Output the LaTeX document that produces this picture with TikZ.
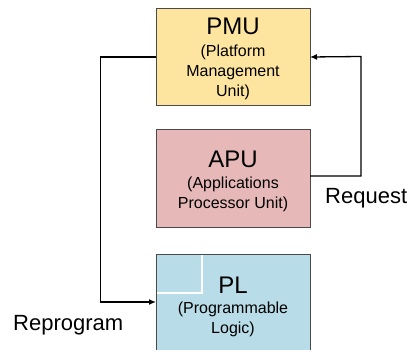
\documentclass[tikz,border=0pt]{standalone}
\usepackage{fontspec}
\setmainfont{Liberation Sans}
\usetikzlibrary{arrows.meta}
\definecolor{pmufill}{HTML}{FDE49F}
\definecolor{apufill}{HTML}{E6B9B8}
\definecolor{plfill}{HTML}{B9DDE8}
\definecolor{boxline}{HTML}{4A4A4A}
\tikzset{
  unitbox/.style={draw=boxline, line width=0.9pt, minimum width=154pt, inner sep=0pt, outer sep=0pt},
  title/.style={font=\fontsize{24}{24}\selectfont, anchor=base, inner sep=0pt},
  sub/.style={font=\fontsize{16}{20}\selectfont, anchor=base, inner sep=0pt, align=center},
  lbl/.style={font=\fontsize{22}{22}\selectfont, anchor=base west, inner sep=0pt},
  link/.style={line width=1.3pt, black, -{Latex[length=7pt,width=6pt]}}
}
\begin{document}
\begin{tikzpicture}[x=1pt,y=-1pt]
  \useasboundingbox (0,0) rectangle (409,350);
  \clip (0,0) rectangle (409,350);
  % the three blocks
  \node[unitbox, fill=pmufill, minimum height=97pt] (pmu) at (233,56.5) {};
  \node[unitbox, fill=apufill, minimum height=98pt] (apu) at (233,178) {};
  \node[unitbox, fill=plfill, minimum height=100pt] (pl) at (233,304) {};
  % white corner mark inside PL
  \draw[white, line width=1.6pt] (202,255) -- (202,293) -- (157,293);
  % block texts
  \node[title] (pmut) at (233,35) {PMU};
  \node[sub] (pmus1) at (233,57) {(Platform};
  \node[sub] (pmus2) at (233,77) {Management};
  \node[sub] (pmus3) at (233,97) {Unit)};
  \node[title] (aput) at (233,167) {APU};
  \node[sub] (apus1) at (233,188) {(Applications};
  \node[sub] (apus2) at (233,208) {Processor Unit)};
  \node[title] (plt) at (233,293) {PL};
  \node[sub] (pls1) at (233,313) {(Programmable};
  \node[sub] (pls2) at (233,333) {Logic)};
  % connectors
  \coordinate (rq) at (361,176);
  \coordinate (rp) at (100.5,57);
  \draw[link] (apu.east |- rq) -- (rq) -- (rq |- pmu.east) -- (pmu.east |- 0,57);
  \draw[link] (pmu.west |- rp) -- (rp) -- (rp |- 0,302) -- (pl.west |- 0,302);
  % connector labels
  \node[lbl] (req) at (325,203) {Request};
  \node[lbl] (rep) at (13,330) {Reprogram};
\end{tikzpicture}
\end{document}
